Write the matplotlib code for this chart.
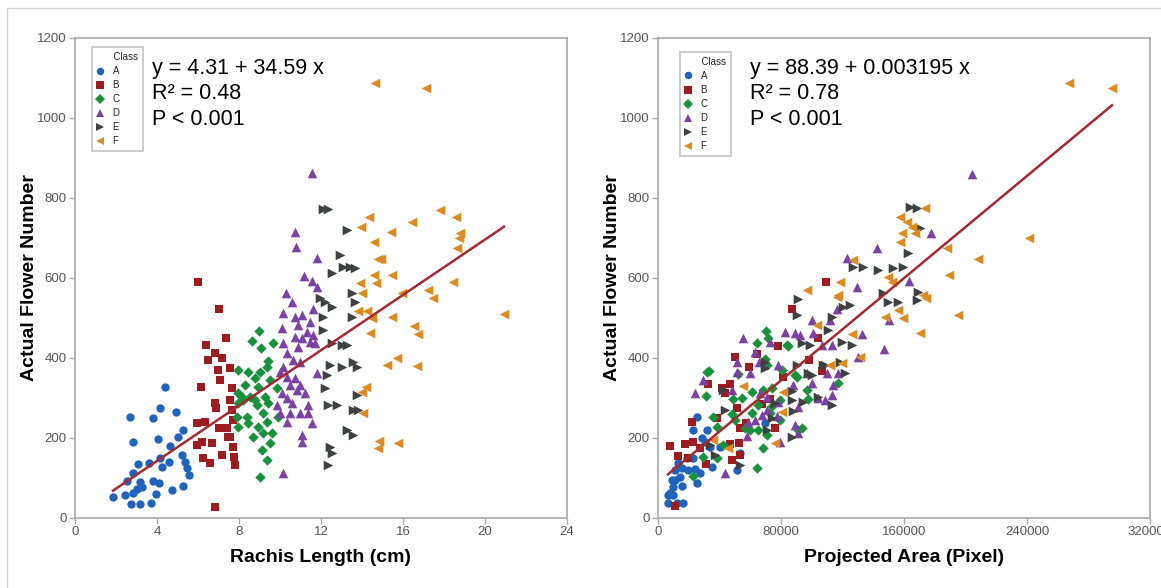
import matplotlib
matplotlib.use("Agg")
import matplotlib.pyplot as plt
from matplotlib.lines import Line2D
from matplotlib.patches import Rectangle
import numpy as np

plt.rcParams['font.family'] = ['Liberation Sans', 'DejaVu Sans']

classes = ["A", "B", "C", "D", "E", "F"]
colors = ["#1f63bd", "#9c1c1f", "#18913c", "#7b42a3", "#3f4042", "#dc8a22"]
markers = ["o", "s", "D", "^", ">", "<"]
sizes = [36, 32, 28, 48, 48, 48]

# rachis length (cm) vs flower number
rachis_a_x = [1.85, 2.68, 2.83, 4.39, 4.15, 3.80, 4.93, 4.05, 5.27, 5.02, 4.63, 3.07, 3.61, 4.15,
              4.24, 4.59, 5.22, 5.37, 5.46, 5.56, 2.83, 2.54, 3.17, 3.80, 4.10, 3.27, 3.02, 2.83,
              2.44, 3.95, 4.73, 5.27, 2.73, 3.17, 3.71]
rachis_a_y = [52, 252, 190, 327, 275, 250, 265, 197, 220, 202, 180, 135, 137, 150,
              127, 140, 157, 140, 125, 107, 112, 92, 90, 92, 87, 77, 72, 62,
              57, 60, 70, 80, 35, 35, 37]
rachis_b_x = [6.00, 7.02, 6.39, 7.37, 6.49, 6.83, 7.17, 6.98, 7.56, 7.07, 7.66, 6.15, 6.83, 6.88,
              7.56, 7.66, 5.95, 6.34, 7.02, 7.41, 7.71, 7.46, 5.95, 6.20, 6.68, 7.71, 6.24, 6.59,
              7.17, 7.76, 7.80, 6.83, 7.56]
rachis_b_y = [590, 522, 432, 450, 395, 412, 400, 370, 375, 345, 325, 328, 287, 275,
              295, 270, 237, 240, 225, 225, 245, 202, 182, 190, 187, 177, 150, 137,
              157, 152, 132, 27, 202]
rachis_c_x = [8.98, 8.63, 9.07, 9.66, 9.41, 7.95, 8.44, 9.02, 9.37, 8.78, 9.51, 8.29, 8.93, 9.85,
              7.95, 8.54, 9.27, 7.95, 8.20, 8.88, 9.41, 7.90, 8.39, 9.17, 9.90, 7.95, 8.44, 8.93,
              9.37, 8.68, 9.17, 9.61, 9.12, 9.51, 9.37, 9.02, 8.15, 8.78]
rachis_c_y = [467, 442, 425, 437, 392, 370, 365, 365, 377, 350, 345, 332, 327, 325,
              312, 302, 302, 287, 295, 282, 287, 252, 252, 262, 252, 227, 237, 227,
              240, 202, 212, 212, 170, 187, 145, 102, 302, 295]
rachis_d_x = [11.56, 10.73, 10.78, 11.80, 11.17, 11.56, 11.80, 10.29, 10.59, 11.61, 10.15, 10.73,
              11.07, 11.46, 10.10, 10.88, 11.32, 11.61, 10.73, 11.07, 10.15, 11.46, 11.71, 10.88,
              10.34, 10.63, 10.98, 10.15, 10.00, 11.80, 10.34, 10.73, 10.49, 10.98, 10.10, 10.83,
              11.22, 10.34, 9.85, 10.59, 11.37, 10.00, 10.49, 10.98, 11.37, 10.34, 11.56, 11.07,
              11.07, 10.15]
rachis_d_y = [862, 715, 677, 650, 605, 592, 577, 562, 540, 522, 512, 502,
              507, 490, 475, 482, 465, 457, 452, 450, 437, 440, 437, 427,
              412, 395, 390, 377, 365, 362, 352, 350, 332, 332, 312, 320,
              312, 300, 282, 287, 282, 262, 262, 262, 262, 240, 237, 207,
              190, 112]
rachis_e_x = [12.10, 12.34, 13.27, 12.93, 13.07, 13.41, 13.66, 12.54, 11.95, 12.20, 12.54, 13.51,
              13.66, 12.10, 13.51, 12.10, 12.54, 13.02, 13.27, 12.44, 13.02, 13.56, 13.76, 12.29,
              12.20, 12.34, 12.78, 13.56, 13.80, 13.76, 13.27, 13.56, 12.44, 12.54, 12.34]
rachis_e_y = [772, 772, 720, 657, 627, 627, 625, 612, 550, 540, 527, 562,
              540, 502, 502, 470, 437, 432, 432, 382, 377, 390, 377, 357,
              325, 282, 282, 270, 270, 307, 220, 207, 177, 162, 132]
rachis_f_x = [14.63, 17.12, 17.80, 18.59, 14.34, 13.95, 15.41, 16.44, 14.59, 18.78, 18.73, 18.63,
              14.78, 14.95, 14.59, 15.46, 13.90, 14.68, 18.44, 14.00, 17.22, 15.95, 17.46, 13.80,
              14.24, 14.49, 15.46, 14.39, 16.54, 16.73, 20.93, 15.71, 15.22, 16.68, 14.20, 14.00,
              14.05, 14.83, 14.78, 15.76]
rachis_f_y = [1087, 1075, 770, 752, 752, 727, 715, 740, 690, 712, 700, 675,
              647, 647, 607, 607, 587, 587, 590, 562, 570, 562, 550, 517,
              517, 500, 502, 462, 480, 460, 510, 400, 382, 380, 327, 315,
              262, 192, 175, 187]

# projected area (pixel) vs flower number
area_a_x = [25400, 22800, 28600, 31900, 30600, 33800, 13000, 18900, 22800, 15600, 24100, 27300,
            11100, 14300, 9800, 15600, 7800, 9800, 6500, 16300, 12400, 25400, 35100, 51400,
            53300, 40300, 69600, 9100, 11100, 6500, 19500]
area_a_y = [252, 220, 200, 220, 190, 177, 137, 150, 150, 125, 122, 112,
            95, 102, 77, 80, 62, 57, 37, 37, 37, 87, 127, 120,
            162, 177, 237, 95, 120, 57, 120]
area_b_x = [109300, 87200, 50100, 59200, 64400, 78000, 104100, 98200, 32500, 41600, 46800, 81300,
            106700, 51400, 67600, 72800, 38400, 22100, 53300, 76100, 57200, 7800, 17600, 22800,
            27300, 13000, 19500, 46800, 52700, 53300, 48100, 31200, 11100, 43600]
area_b_y = [590, 522, 402, 377, 410, 430, 450, 395, 335, 325, 335, 352,
            367, 275, 285, 297, 250, 240, 225, 225, 237, 180, 185, 190,
            175, 155, 150, 185, 187, 157, 145, 135, 30, 312]
area_c_x = [70200, 71500, 64400, 83900, 33200, 31900, 31200, 52000, 69600, 70900, 80700, 90400,
            48800, 54600, 61100, 68300, 74100, 79300, 65000, 74100, 48100, 50100, 35800, 38400,
            61100, 72800, 79300, 56600, 59800, 65000, 70900, 91100, 93700, 42300, 38400, 29300,
            68300, 64400, 22800, 96900, 97600, 117100, 84500, 89100]
area_c_y = [467, 450, 437, 432, 367, 365, 305, 360, 397, 382, 370, 352,
            297, 300, 315, 320, 325, 295, 282, 280, 260, 245, 252, 227,
            262, 262, 245, 225, 220, 220, 207, 220, 225, 182, 150, 152,
            175, 125, 105, 320, 297, 337, 430, 357]
area_d_x = [204200, 142400, 129400, 122900, 163300, 177600, 150200, 132700, 147000, 116400, 111900,
            100200, 92400, 106700, 113200, 100800, 130100, 96900, 109900, 100200, 117100, 104100,
            108600, 91100, 78000, 87800, 89100, 91100, 79300, 55300, 82600, 89100, 72800, 63100,
            65700, 51400, 51400, 59800, 78000, 29300, 24100, 66300, 70900, 113800, 113200, 70900,
            67600, 77400, 58500, 63100, 57900, 43600, 48100]
area_d_y = [860, 675, 577, 650, 592, 712, 495, 460, 422, 522, 495,
            495, 457, 432, 432, 462, 402, 362, 362, 337, 362, 300,
            295, 277, 290, 332, 232, 212, 190, 450, 465, 462, 440, 415,
            390, 390, 365, 362, 382, 345, 312, 312, 302, 332, 307, 270,
            257, 255, 240, 245, 205, 112, 320]
area_e_x = [163900, 168400, 170400, 162600, 159300, 152800, 143100, 133300, 126800, 169100, 146300,
            168400, 91100, 90400, 124900, 120300, 149600, 156100, 113200, 110600, 93700, 98900,
            119700, 126200, 108600, 118400, 121600, 97600, 69600, 69600, 87200, 87200, 94300,
            104100, 113200, 87200, 74100, 42300, 43600, 76100, 87800, 70900, 33800, 37100, 53300,
            100200, 107300, 90400]
area_e_y = [777, 775, 725, 662, 627, 625, 620, 627, 627, 565, 562,
            545, 547, 507, 532, 527, 540, 540, 502, 470, 437, 432,
            440, 432, 382, 390, 362, 362, 390, 375, 317, 295, 290,
            302, 282, 202, 250, 320, 270, 287, 267, 220, 182, 157, 132,
            357, 382, 382]
area_f_x = [267300, 295300, 241300, 188000, 208100, 189300, 195100, 173700, 157400, 162000, 165200,
            167200, 158700, 157400, 149600, 152200, 126800, 118400, 117100, 96900, 172400, 174000,
            156100, 159300, 147600, 170400, 126200, 103400, 131400, 111900, 119700, 81300, 80700,
            76100, 116400, 55300, 35800, 45500]
area_f_y = [1087, 1075, 700, 675, 647, 607, 507, 775, 752, 740, 727,
            712, 712, 690, 602, 590, 645, 590, 557, 570, 557, 550,
            520, 500, 502, 462, 460, 482, 402, 382, 387, 315, 265,
            187, 552, 330, 195, 175]

rachis_x = [rachis_a_x, rachis_b_x, rachis_c_x, rachis_d_x, rachis_e_x, rachis_f_x]
rachis_y = [rachis_a_y, rachis_b_y, rachis_c_y, rachis_d_y, rachis_e_y, rachis_f_y]
area_x = [area_a_x, area_b_x, area_c_x, area_d_x, area_e_x, area_f_x]
area_y = [area_a_y, area_b_y, area_c_y, area_d_y, area_e_y, area_f_y]

rachis_fit = (4.31, 34.59)
area_fit = (88.39, 0.003195)

rachis_stats = ["y = 4.31 + 34.59 x", "R² = 0.48", "P < 0.001"]
area_stats = ["y = 88.39 + 0.003195 x", "R² = 0.78", "P < 0.001"]

AXIS_GRAY = "#a9a9a9"
TICK_TEXT = "#555555"
FIT_COLOR = "#a52a2f"


def draw_panel(ax, xs, ys, fit, stats, xlim, xticks, xlabel, text_x, legend_x, legend_y):
    for xv, yv, c, m, s in zip(xs, ys, colors, markers, sizes):
        ax.scatter(xv, yv, c=c, marker=m, s=s, linewidths=0, zorder=3)

    all_x = np.concatenate([np.asarray(v, dtype=float) for v in xs])
    line_x = np.array([all_x.min(), all_x.max()])
    ax.plot(line_x, fit[0] + fit[1] * line_x, color=FIT_COLOR, lw=1.8, zorder=4)

    ax.set_xlim(*xlim)
    ax.set_ylim(0, 1200)
    ax.set_xticks(xticks)
    ax.set_yticks(range(0, 1201, 200))
    for sp in ax.spines.values():
        sp.set_color(AXIS_GRAY)
        sp.set_linewidth(1.2)
    ax.tick_params(direction="out", length=4, width=1, color=AXIS_GRAY,
                   labelsize=9.5, labelcolor=TICK_TEXT, pad=2)
    ax.set_xlabel(xlabel, fontsize=14, fontweight="bold", labelpad=8)
    ax.set_ylabel("Actual Flower Number", fontsize=14, fontweight="bold", labelpad=-1)

    for i, line in enumerate(stats):
        ax.text(text_x, 0.937 - i * 0.053, line, transform=ax.transAxes,
                fontsize=15.5, va="center", ha="left", zorder=5)

    handles = [Line2D([], [], ls="none", marker=m, color=c, markersize=5.4,
                      markeredgewidth=0) for c, m in zip(colors, markers)]
    # title padded so "Class" sits over the letters, as in the class key
    leg = ax.legend(handles, classes, title="      Class", loc="upper left",
                    bbox_to_anchor=(legend_x, legend_y), fontsize=7, title_fontsize=7,
                    frameon=True, fancybox=False, edgecolor="#b5b5b5", alignment="left",
                    handlelength=0.7, handletextpad=0.9, labelspacing=0.42,
                    borderpad=0.5, borderaxespad=0)
    leg.get_frame().set_linewidth(1.2)
    leg.get_title().set_color("#222222")
    for t in leg.get_texts():
        t.set_color("#222222")


fig = plt.figure(figsize=(11.61, 5.88), dpi=100)
ax1 = fig.add_axes([75 / 1161, 70 / 588, 492 / 1161, 480 / 588])
ax2 = fig.add_axes([658 / 1161, 70 / 588, 492 / 1161, 480 / 588])

draw_panel(ax1, rachis_x, rachis_y, rachis_fit, rachis_stats, (0, 24), range(0, 25, 4),
           "Rachis Length (cm)", 0.157, 0.035, 0.981)
draw_panel(ax2, area_x, area_y, area_fit, area_stats, (0, 320000), range(0, 320001, 80000),
           "Projected Area (Pixel)", 0.187, 0.045, 0.971)

# thin frame round the whole figure
fig.add_artist(Rectangle((7 / 1161, -0.1), 1.2, (588 - 8) / 588 + 0.1,
                         transform=fig.transFigure, fill=False,
                         edgecolor="#d4d4d4", lw=1.0))

fig.savefig("out.png", dpi=100)
